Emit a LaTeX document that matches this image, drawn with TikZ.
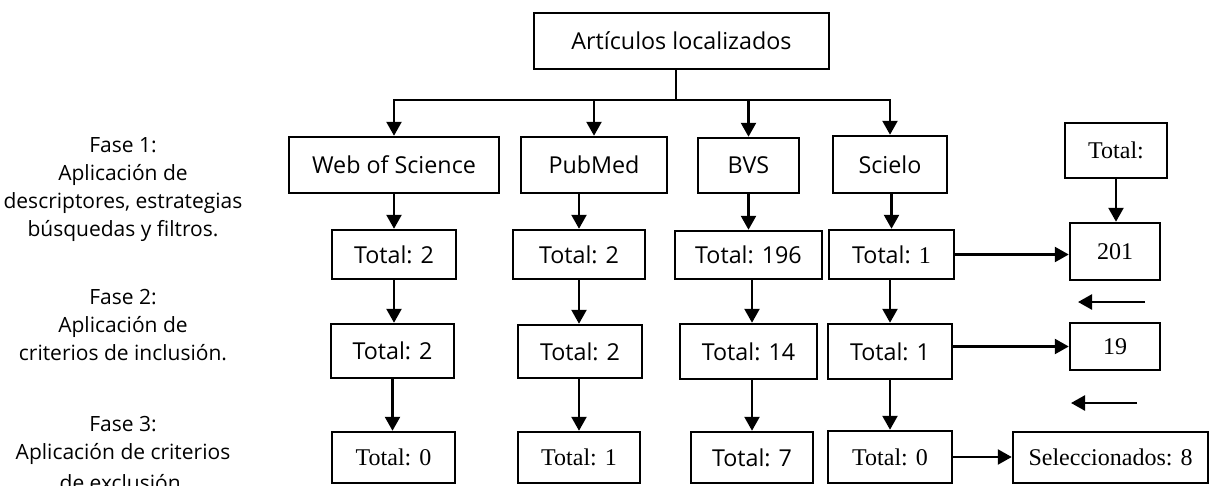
\documentclass[tikz,border=0pt]{standalone}
\usepackage{fontspec}
\setmainfont{Open Sans}
\newfontfamily\serif{Liberation Serif}
\usetikzlibrary{arrows.meta}
\tikzset{
  every node/.style={font=\fontsize{23.3}{28}\selectfont},
  box/.style={draw, line width=2.5pt, inner sep=0pt, rectangle},
  sbox/.style={box, font=\fontsize{24}{28}\selectfont\serif},
  ln/.style={line width=2.5pt},
  arr/.style={line width=2.5pt, -{Triangle[width=15pt,length=14pt]}},
  phase/.style={align=center, anchor=base, inner sep=0pt, font=\fontsize{21}{27.7}\selectfont}
}
\begin{document}
\begin{tikzpicture}[x=1pt,y=-1pt]
\useasboundingbox (0,0) rectangle (1210,485);
% phase texts (anchor base = last line)
\node[phase] (f1) at (123,236) {Fase 1:\\Aplicación de\\descriptores, estrategias\\búsquedas y filtros.};
\node[phase] (f2) at (123,360) {Fase 2:\\Aplicación de\\criterios de inclusión.};
\node[phase] (f3) at (123,490) {Fase 3:\\Aplicación de criterios\\[3pt]de exclusión.};
% top
\node[box, minimum width=295pt, minimum height=56pt] (top) at (681.5,41) {Artículos localizados};
% databases
\node[box, minimum width=210pt, minimum height=56pt] (wos) at (394,165) {Web of Science};
\node[box, minimum width=146pt, minimum height=56pt] (pub) at (594,165) {PubMed};
\node[box, minimum width=101pt, minimum height=55pt] (bvs) at (748.5,165.5) {BVS};
\node[box, minimum width=114pt, minimum height=57pt] (sci) at (890,164.5) {Scielo};
\node[sbox, minimum width=102pt, minimum height=55pt] (tot) at (1116,150.5) {Total:};
% row 1
\node[box, minimum width=124pt, minimum height=49pt] (w1) at (394,254.5) {Total: 2};
\node[box, minimum width=132pt, minimum height=49pt] (p1) at (579,254.5) {Total: 2};
\node[box, minimum width=147pt, minimum height=48pt] (b1) at (748.5,255) {Total: 196};
\node[box, minimum width=125pt, minimum height=49pt] (s1) at (891.5,254.5) {Total: {\serif\fontsize{24}{28}\selectfont 1}};
\node[sbox, minimum width=90pt, minimum height=57pt] (n201) at (1115,251.5) {201};
% row 2
\node[box, minimum width=123pt, minimum height=54pt] (w2) at (392.5,351) {Total: 2};
\node[box, minimum width=124pt, minimum height=53pt] (p2) at (580,351.5) {Total: 2};
\node[box, minimum width=137pt, minimum height=55pt] (b2) at (748.5,351.5) {Total: 14};
\node[box, minimum width=124pt, minimum height=55pt] (s2) at (890,351.5) {Total: 1};
\node[sbox, minimum width=90pt, minimum height=47pt] (n19) at (1115,346.5) {19};
% row 3
\node[sbox, minimum width=123pt, minimum height=51pt] (w3) at (393.5,457.5) {Total: 0};
\node[sbox, minimum width=122pt, minimum height=51pt] (p3) at (579,457.5) {Total: 1};
\node[box, minimum width=122pt, minimum height=51pt] (b3) at (752,457.5) {Total: 7};
\node[sbox, minimum width=124pt, minimum height=52pt] (s3) at (890,457) {Total: 0};
\node[sbox, minimum width=195pt, minimum height=51pt] (sel) at (1110.5,457.5) {Seleccionados: 8};
% connectors
\coordinate (hub) at (676,100);
\draw[ln] (top.south -| hub) -- (hub);
\draw[arr] (hub) -| (wos.north);
\draw[arr] (hub) -| (pub.north);
\draw[arr] (hub) -| (bvs.north);
\draw[arr] (hub) -| (sci.north);
\draw[arr] (wos.south) -- (w1.north);
\draw[arr] (pub.south -| p1.north) -- (p1.north);
\draw[arr] (bvs.south) -- (b1.north);
\draw[arr] (sci.south -| s1.north) -- (s1.north);
\draw[arr] (tot.south) -- (tot.south |- n201.north);
\draw[arr] (w1.south) -- (w1.south |- w2.north);
\draw[arr] (p1.south) -- (p1.south |- p2.north);
\draw[arr] (b1.south -| b3.north) -- (b2.north -| b3.north);
\draw[arr] (s1.south -| s2.north) -- (s2.north);
\draw[arr] (w2.south) -- (w2.south |- w3.north);
\draw[arr] (p2.south -| p3.north) -- (p3.north);
\draw[arr] (b2.south -| b3.north) -- (b3.north);
\draw[arr] (s2.south) -- (s2.south |- s3.north);
\draw[arr] (s1.east) -- (s1.east -| n201.west);
\draw[arr] (n19.west -| s2.east) -- (n19.west);
\draw[arr] (s3.east) -- (s3.east -| sel.west);
\coordinate (la1) at (1145,302);
\coordinate (lb1) at (1078,302);
\coordinate (la2) at (1137,403);
\coordinate (lb2) at (1071,403);
\draw[arr] (la1) -- (lb1);
\draw[arr] (la2) -- (lb2);
\end{tikzpicture}
\end{document}
